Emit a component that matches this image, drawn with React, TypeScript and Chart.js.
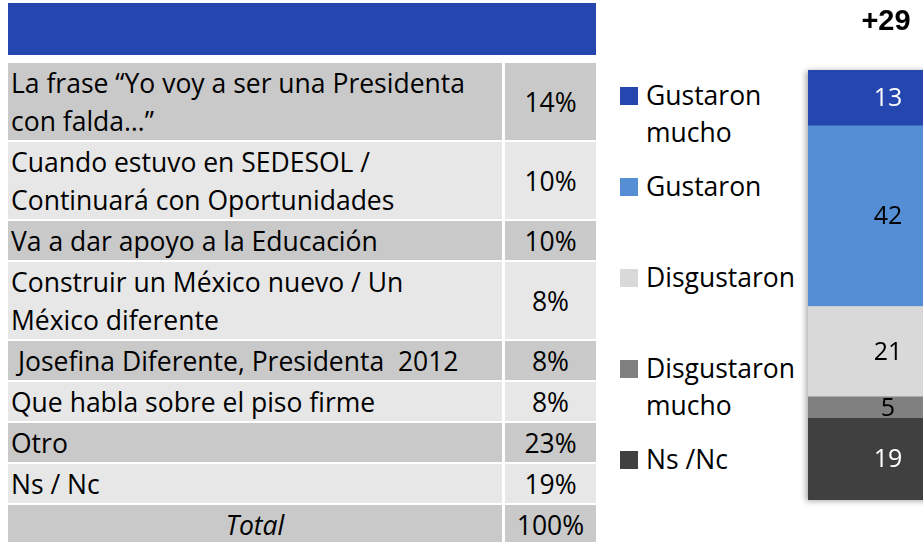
import React, { useEffect, useRef } from "react";
import { Chart, registerables } from "chart.js";

Chart.register(...registerables);

// ---- Table data ----
const tableLabels: string[][] = [
  ["La frase \u201cYo voy a ser una Presidenta", "con falda\u2026\u201d"],
  ["Cuando estuvo en SEDESOL /", "Continuar\u00e1 con Oportunidades"],
  ["Va a dar apoyo a la Educaci\u00f3n"],
  ["Construir un M\u00e9xico nuevo / Un", "M\u00e9xico diferente"],
  [" Josefina Diferente, Presidenta  2012"],
  ["Que habla sobre el piso firme"],
  ["Otro"],
  ["Ns / Nc"],
];
const tablePcts: string[] = ["14%", "10%", "10%", "8%", "8%", "8%", "23%", "19%"];
const totalLabel = "Total";
const totalPct = "100%";

// ---- Bar data (top to bottom) ----
const segLabels: string[][] = [
  ["Gustaron", "mucho"],
  ["Gustaron"],
  ["Disgustaron"],
  ["Disgustaron", "mucho"],
  ["Ns /Nc"],
];
const segValues: number[] = [13, 42, 21, 5, 19];
const segColors: string[] = ["#2446AE", "#558ED5", "#D9D9D9", "#808080", "#404040"];
const segTextColors: string[] = ["#FFFFFF", "#000000", "#000000", "#000000", "#FFFFFF"];

const FONT = "'Open Sans', Lato, sans-serif";
const FS = 26.5;

export default function App() {
  const canvasRef = useRef<HTMLCanvasElement | null>(null);

  useEffect(() => {
    if (!canvasRef.current) return;
    const order = segValues.map((_, i) => i).reverse();
    const net = segValues[0] + segValues[1] - segValues[2] - segValues[3];

    const shadowPlugin = {
      id: "barShadow",
      beforeDatasetsDraw(chart: any) {
        const ctx = chart.ctx;
        let left = Infinity, right = -Infinity, top = Infinity, bottom = -Infinity;
        chart.data.datasets.forEach((_: any, di: number) => {
          const el: any = chart.getDatasetMeta(di).data[0];
          if (!el) return;
          left = Math.min(left, el.x - el.width / 2);
          right = Math.max(right, el.x + el.width / 2);
          top = Math.min(top, el.y, el.base);
          bottom = Math.max(bottom, el.y, el.base);
        });
        ctx.save();
        ctx.shadowColor = "rgba(0,0,0,0.35)";
        ctx.shadowBlur = 6;
        ctx.shadowOffsetX = -2;
        ctx.shadowOffsetY = 1;
        ctx.fillStyle = "#ffffff";
        ctx.fillRect(left, top, right - left, bottom - top);
        ctx.restore();
      },
    };

    const labelPlugin = {
      id: "segLabels",
      afterDatasetsDraw(chart: any) {
        const ctx = chart.ctx;
        ctx.save();
        ctx.textAlign = "center";
        ctx.textBaseline = "middle";
        ctx.font = `25px ${FONT}`;
        let cx = 0;
        chart.data.datasets.forEach((ds: any, di: number) => {
          const el: any = chart.getDatasetMeta(di).data[0];
          if (!el) return;
          cx = el.x;
          ctx.fillStyle = ds.textColor;
          ctx.fillText(String(ds.data[0]), el.x, (el.y + el.base) / 2 + 1);
        });
        ctx.fillStyle = "#000000";
        ctx.font = `bold 29px 'Liberation Sans', Arial, sans-serif`;
        ctx.fillText((net > 0 ? "+" : "") + net, cx - 2, 22);
        ctx.restore();
      },
    };

    const chart = new Chart(canvasRef.current, {
      type: "bar",
      data: {
        labels: [""],
        datasets: order.map((i) => ({
          label: segLabels[i].join(" "),
          data: [segValues[i]],
          backgroundColor: segColors[i],
          borderWidth: 0,
          barPercentage: 1,
          categoryPercentage: 1,
          textColor: segTextColors[i],
        })) as any,
      },
      options: {
        animation: false,
        responsive: false,
        maintainAspectRatio: false,
        layout: { padding: { left: 208, right: 32, top: 70, bottom: 42 } },
        plugins: { legend: { display: false }, tooltip: { enabled: false }, title: { display: false } },
        scales: {
          x: { stacked: true, display: false },
          y: { stacked: true, display: false, min: 0, max: 100 },
        },
      },
      plugins: [shadowPlugin, labelPlugin],
    });
    return () => chart.destroy();
  }, []);

  const rows = tableLabels.map((lines, i) => ({ lines, pct: tablePcts[i], italic: false }));
  rows.push({ lines: [totalLabel], pct: totalPct, italic: true });

  const legendTops = [77, 168, 259, 350, 441];

  return (
    <div
      style={{
        position: "absolute",
        left: 0,
        top: 0,
        width: 923,
        height: 542,
        overflow: "hidden",
        background: "#ffffff",
        fontFamily: FONT,
        color: "#000",
      }}
    >
      <div style={{ position: "absolute", left: 8, top: 3, width: 588, height: 52, background: "#2446AE" }} />
      <div style={{ position: "absolute", left: 8, top: 63, width: 588, display: "flex", flexDirection: "column", gap: 2 }}>
        {rows.map((r, i) => {
          const bg = i % 2 === 0 ? "#C9C9C9" : "#E7E7E7";
          const h = r.lines.length * 38 + 1;
          return (
            <div key={i} style={{ display: "flex", gap: 3, height: h }}>
              <div
                style={{
                  width: 494,
                  background: bg,
                  display: "flex",
                  flexDirection: "column",
                  justifyContent: "center",
                  alignItems: r.italic ? "center" : "flex-start",
                  paddingLeft: r.italic ? 0 : 3,
                  boxSizing: "border-box",
                  fontSize: FS,
                  lineHeight: "38px",
                  fontStyle: r.italic ? "italic" : "normal",
                  whiteSpace: "pre",
                }}
              >
                {r.lines.map((l, k) => (
                  <div key={k}>{l}</div>
                ))}
              </div>
              <div
                style={{
                  width: 91,
                  background: bg,
                  display: "flex",
                  alignItems: "center",
                  justifyContent: "center",
                  fontSize: FS,
                }}
              >
                {r.pct}
              </div>
            </div>
          );
        })}
      </div>
      {segLabels.map((lines, i) => (
        <div key={i} style={{ position: "absolute", left: 620, top: legendTops[i], display: "flex" }}>
          <div style={{ width: 18, height: 18, background: segColors[i], marginTop: 10, marginRight: 8 }} />
          <div style={{ fontSize: FS, lineHeight: "37px" }}>
            {lines.map((l, k) => (
              <div key={k}>{l}</div>
            ))}
          </div>
        </div>
      ))}
      <div style={{ position: "absolute", left: 600, top: 0, width: 400, height: 542 }}>
        <canvas ref={canvasRef} width={400} height={542} style={{ display: "block" }} />
      </div>
    </div>
  );
}
